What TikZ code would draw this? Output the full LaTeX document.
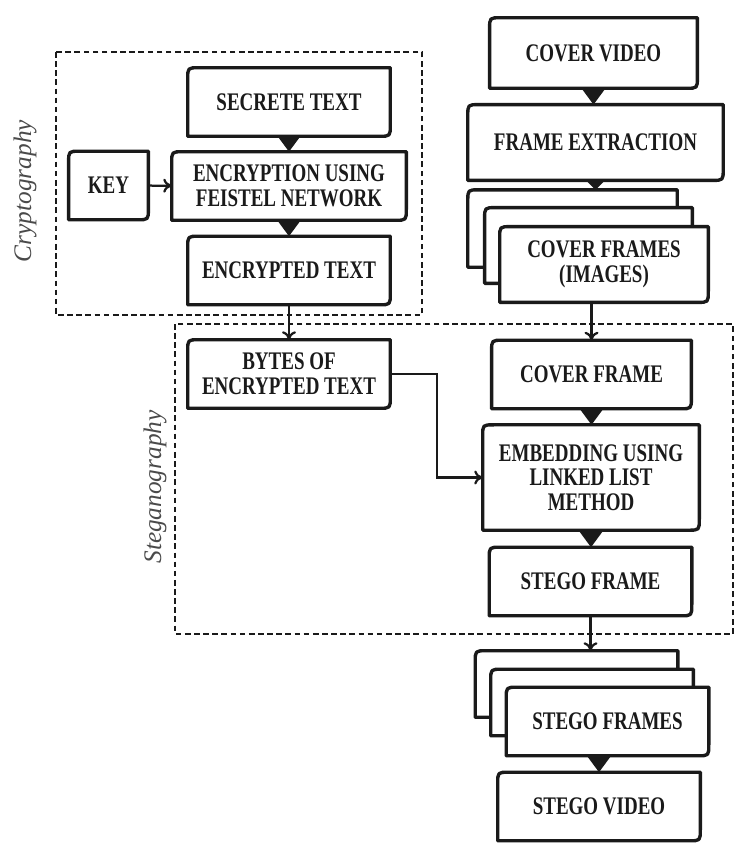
\documentclass[tikz,border=0pt]{standalone}
\usepackage{fontspec}
\setmainfont{Liberation Serif}
\newfontfamily\boxfamily[FakeStretch=0.75]{Liberation Serif}
\usetikzlibrary{positioning,calc,arrows.meta}
\definecolor{ink}{HTML}{1A1A1A}
\definecolor{lbl}{HTML}{4A4A4A}
\newcommand{\boxtext}{\boxfamily\bfseries\fontsize{18}{17.5}\selectfont}
\tikzset{
  boxline/.style={draw=ink, fill=white, line width=2.4pt, line join=round},
  % one corner rounded top left, one bottom right
  box/.style   ={inner sep=1pt, align=center, text=ink,
                 minimum width=5.05cm, minimum height=1.7cm, font=\boxtext,
                 append after command={\pgfextra{\draw[boxline]
                   ([yshift=-8pt]\tikzlastnode.north west)
                   .. controls (\tikzlastnode.north west) .. ([xshift=8pt]\tikzlastnode.north west)
                   -- (\tikzlastnode.north east)
                   -- ([yshift=8pt]\tikzlastnode.south east)
                   .. controls (\tikzlastnode.south east) .. ([xshift=-8pt]\tikzlastnode.south east)
                   -- (\tikzlastnode.south west) -- cycle;}}},
  frame/.style ={draw=ink, line width=0.9pt, dash pattern=on 4pt off 2.5pt},
  tri/.style   ={-{Triangle[length=11pt, width=16pt]}, draw=ink, fill=ink, line width=1pt},
  flow/.style  ={-{To[length=6pt, width=10pt]}, draw=ink, line width=1.6pt},
  tag/.style   ={font=\itshape\fontsize{18}{18}\selectfont, text=lbl, rotate=90},
}
\begin{document}
\begin{tikzpicture}[x=0.025cm, y=-0.025cm]
    \useasboundingbox (0,0) rectangle (744,843);
    \draw[frame] (56,52) rectangle (422,315);
    \draw[frame] (175,324) rectangle (733,634);
    \node[tag] (crypt) at (25,191) {Cryptography};
    \node[tag] (stego) at (155,487) {Steganography};
    \node[box] (sec)  at (289,102)   {SECRETE TEXT};
    \node[box, minimum width=1.98cm] (key) at (108.5,185.5) {KEY};
    \node[box, minimum width=5.85cm] (enc) at (289,186) {ENCRYPTION USING\\FEISTEL NETWORK};
    \node[box] (encd) at (289,270.5) {ENCRYPTED TEXT};
    \node[box, minimum width=5.18cm, minimum height=1.75cm] (cvid) at (593.5,53) {COVER VIDEO};
    \node[box, minimum width=6.37cm, minimum height=1.88cm] (fext) at (595.5,142.5) {FRAME EXTRACTION};
    \node[box, minimum width=5.22cm, minimum height=1.92cm] (cf1) at (572.5,228.5) {};
    \node[box, minimum width=5.18cm, minimum height=1.88cm] (cf2) at (588.5,245.5) {};
    \node[box, minimum width=5.2cm, minimum height=1.88cm] (cf3) at (604,264.5) {COVER FRAMES\\(IMAGES)};
    \node[box] (bytes) at (289,374) {BYTES OF\\ENCRYPTED TEXT};
    \node[box, minimum width=4.98cm] (cfr) at (591.5,374.5) {COVER FRAME};
    \node[box, minimum width=5.4cm, minimum height=2.62cm] (emb) at (591,477.5) {EMBEDDING USING\\LINKED LIST\\METHOD};
    \node[box] (sfr)  at (590.5,581.5) {STEGO FRAME};
    \node[box, minimum height=1.65cm] (sf1) at (576.5,684) {};
    \node[box, minimum height=1.65cm] (sf2) at (592,702.5) {};
    \node[box] (sf3)  at (607.5,721.5) {STEGO FRAMES};
    \node[box] (svid) at (599,806.5) {STEGO VIDEO};
    \coordinate (bend) at (437,374);
    \draw[tri] (sec) -- (enc);
    \draw[flow] (key) -- (enc);
    \draw[tri] (enc) -- (encd);
    \draw[flow] (encd) -- (bytes);
    \draw[tri] (cvid.south) -- (cvid.south |- fext.north);
    \draw[tri, -{Triangle[length=7pt, width=14pt]}] (fext.south) -- (fext.south |- cf1.north);
    \draw[flow] (cf3.south -| cfr.north) -- (cfr.north);
    \draw[tri] (cfr.south) -- (cfr.south |- emb.north);
    \draw[flow] (bytes.east) -- (bend) |- (emb.west);
    \draw[tri] (emb.south) -- (emb.south |- sfr.north);
    \draw[flow] (sfr.south) -- (sfr.south |- sf1.north);
    \draw[tri] (sf3.south -| svid.north) -- (svid.north);
  \end{tikzpicture}
\end{document}
